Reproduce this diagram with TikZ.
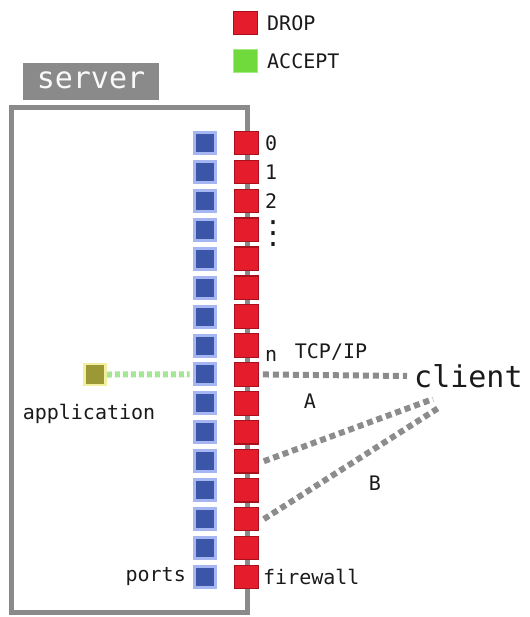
\documentclass[tikz,border=0pt]{standalone}
\usepackage{fontspec}
\setmainfont{DejaVu Sans Mono}
\newfontfamily\symfont{DejaVu Sans}
\definecolor{sqred}{HTML}{E51C2C}
\definecolor{sqredd}{HTML}{A8101E}
\definecolor{sqblue}{HTML}{3B56A6}
\definecolor{sqbluel}{HTML}{A6B6F2}
\definecolor{boxgray}{HTML}{8A8A8A}
\definecolor{linkgray}{HTML}{8C8C8C}
\definecolor{accgreen}{HTML}{70DA3C}
\definecolor{accgreenl}{HTML}{A2EC80}
\definecolor{appolive}{HTML}{9C9836}
\definecolor{appyel}{HTML}{F2F0A0}
\definecolor{dashgreen}{HTML}{A4E696}
\definecolor{txt}{HTML}{1A1A1A}
\begin{document}
\begin{tikzpicture}[x=1pt,y=-1pt,
  redsq/.style={draw=sqredd, fill=sqred, line width=1.2pt, minimum size=23.5pt, inner sep=0pt},
  bluesq/.style={draw=sqbluel, fill=sqblue, line width=3pt, minimum size=21pt, inner sep=0pt},
  accsq/.style={draw=accgreenl, fill=accgreen, line width=1.2pt, minimum size=23.5pt, inner sep=0pt},
  appsq/.style={draw=appyel, fill=appolive, line width=2.5pt, minimum size=21pt, inner sep=0pt},
  lbl/.style={font=\fontsize{20}{22}\selectfont, text=txt, inner sep=0pt},
  biglbl/.style={font=\fontsize{30}{32}\selectfont, text=txt, inner sep=0pt},
  graylink/.style={draw=linkgray, line width=6pt, dash pattern=on 6pt off 4pt},
  greenlink/.style={draw=dashgreen, line width=6pt, dash pattern=on 5pt off 3pt},
]
\useasboundingbox (0,0) rectangle (529,617);
% legend
\node[redsq] (ldrop) at (245.5,23) {};
\node[lbl, anchor=west] (tdrop) at (267,23) {DROP};
\node[accsq] (lacc) at (245.5,61) {};
\node[lbl, anchor=west] (tacc) at (267,61) {ACCEPT};
% server
\node[fill=boxgray, minimum width=136pt, minimum height=37pt, inner sep=0pt] (tab) at (91,81.5) {};
\node[font=\fontsize{30}{32}\selectfont, text=white!95!gray, inner sep=0pt] (tserver) at (91,80) {server};
\node[draw=boxgray, line width=5pt, minimum width=236pt, minimum height=505pt, inner sep=0pt] (server) at (129,360) {};
% squares
\foreach \i in {0,...,15} {
  \node[bluesq] (b\i) at (204.5,143+28.93*\i) {};
  \node[redsq] (r\i) at (246.5,143+28.93*\i) {};
}
% row labels
\node[lbl, anchor=west] (l0) at (265,143) {0};
\node[lbl, anchor=west] (l1) at (265,171.9) {1};
\node[lbl, anchor=west] (l2) at (265,200.9) {2};
\node[font=\symfont\fontsize{32}{34}\selectfont, text=txt, inner sep=0pt] (l3) at (273,233.5) {⋮};
\node[lbl, anchor=west] (ln) at (265,356) {n};
\node[lbl, anchor=east] (tports) at (186,577) {ports};
\node[lbl, anchor=west] (tfw) at (263,577) {firewall};
% application
\node[appsq] (app) at (95,374.5) {};
\node[lbl] (tapp) at (89,414) {application};
\draw[greenlink] (app.east) -- ([xshift=-3pt]b8.west);
% client
\node[biglbl, anchor=west] (client) at (414,376) {client};
\node[lbl] (ttcp) at (331,352) {TCP/IP};
\node[lbl] (tA) at (310,401) {A};
\node[lbl] (tB) at (375,483) {B};
\coordinate (ca) at (407,376);
\coordinate (cb1) at (433,399);
\coordinate (cb2) at (440,407);
\draw[graylink] ([xshift=4pt]r8.east) -- (ca);
\draw[graylink] ([xshift=5pt]r11.east) -- (cb1);
\draw[graylink] ([xshift=5pt]r13.east) -- (cb2);
\end{tikzpicture}
\end{document}
